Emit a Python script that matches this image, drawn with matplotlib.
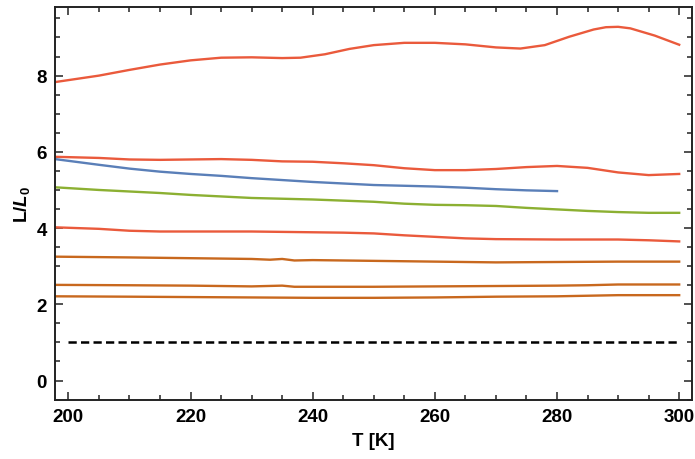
import numpy as np
import matplotlib
matplotlib.use("Agg")
import matplotlib.pyplot as plt
from matplotlib.ticker import MultipleLocator

plt.rcParams['font.family'] = ['Liberation Sans', 'DejaVu Sans']
plt.rcParams['mathtext.fontset'] = 'custom'
plt.rcParams['mathtext.bfit'] = 'Liberation Sans:bold:italic'
plt.rcParams['mathtext.bf'] = 'Liberation Sans:bold'
plt.rcParams['mathtext.it'] = 'Liberation Sans:italic'

red = '#EA5A3C'
blue = '#5A7FB8'
green = '#8CB032'
orange = '#C8681E'

# top red curve
T1 = [197.8, 205, 210, 215, 220, 225, 230, 235, 238, 242, 246, 250, 255, 260, 265, 270, 274, 278, 282, 286, 288, 290, 292, 296, 300]
L1 = [7.83, 8.0, 8.15, 8.29, 8.40, 8.47, 8.48, 8.46, 8.47, 8.56, 8.70, 8.80, 8.86, 8.86, 8.82, 8.74, 8.71, 8.80, 9.02, 9.21, 9.27, 9.28, 9.24, 9.05, 8.81]

# red ~5.9
T2 = [197.8, 205, 210, 215, 220, 225, 230, 235, 240, 245, 250, 255, 260, 265, 270, 275, 280, 285, 290, 295, 300]
L2 = [5.87, 5.84, 5.80, 5.79, 5.80, 5.81, 5.79, 5.75, 5.74, 5.70, 5.65, 5.57, 5.52, 5.52, 5.55, 5.60, 5.63, 5.58, 5.46, 5.39, 5.42]

# blue
T3 = [197.8, 205, 210, 215, 220, 225, 230, 235, 240, 245, 250, 255, 260, 265, 270, 275, 280]
L3 = [5.81, 5.66, 5.56, 5.48, 5.42, 5.37, 5.31, 5.26, 5.21, 5.17, 5.13, 5.11, 5.09, 5.06, 5.02, 4.99, 4.97]

# green
T4 = [197.8, 205, 210, 215, 220, 225, 230, 235, 240, 245, 250, 255, 260, 265, 270, 275, 280, 285, 290, 295, 300]
L4 = [5.07, 5.00, 4.96, 4.92, 4.87, 4.83, 4.79, 4.77, 4.75, 4.72, 4.69, 4.64, 4.61, 4.60, 4.58, 4.53, 4.49, 4.45, 4.42, 4.40, 4.40]

# red ~4
T5 = [197.8, 205, 210, 215, 220, 225, 230, 235, 240, 245, 250, 255, 260, 265, 270, 280, 290, 295, 300]
L5 = [4.02, 3.98, 3.93, 3.91, 3.91, 3.91, 3.91, 3.90, 3.89, 3.88, 3.86, 3.81, 3.77, 3.73, 3.71, 3.70, 3.70, 3.68, 3.65]

# orange curves
T6 = [197.8, 210, 220, 230, 233, 235, 237, 240, 250, 260, 270, 280, 290, 300]
L6 = [3.25, 3.23, 3.21, 3.19, 3.17, 3.19, 3.15, 3.16, 3.14, 3.12, 3.10, 3.11, 3.12, 3.12]
T7 = [197.8, 210, 220, 230, 235, 237, 240, 250, 260, 270, 280, 285, 290, 300]
L7 = [2.51, 2.50, 2.49, 2.47, 2.49, 2.46, 2.46, 2.46, 2.47, 2.48, 2.49, 2.50, 2.52, 2.52]
T8 = [197.8, 210, 220, 230, 240, 250, 260, 270, 280, 290, 300]
L8 = [2.21, 2.20, 2.19, 2.18, 2.17, 2.17, 2.18, 2.20, 2.21, 2.24, 2.24]

# reference L = L0
T_ref = [200, 300]
L_ref = [1, 1]

fig = plt.figure(figsize=(6.95, 4.6), dpi=100)
ax = fig.add_axes([0.0791, 0.1283, 0.9166, 0.8543])

lw = 1.7
ax.plot(T1, L1, color=red, lw=lw)
ax.plot(T2, L2, color=red, lw=lw)
ax.plot(T3, L3, color=blue, lw=lw)
ax.plot(T4, L4, color=green, lw=lw)
ax.plot(T5, L5, color=red, lw=lw)
ax.plot(T6, L6, color=orange, lw=lw)
ax.plot(T7, L7, color=orange, lw=lw)
ax.plot(T8, L8, color=orange, lw=lw)
ax.plot(T_ref, L_ref, color='black', lw=1.8, ls=(0, (3.3, 1.7)))

ax.set_xlim(197.8, 302.1)
ax.set_ylim(-0.51, 9.8)
ax.xaxis.set_major_locator(MultipleLocator(20))
ax.xaxis.set_minor_locator(MultipleLocator(5))
ax.yaxis.set_major_locator(MultipleLocator(2))
ax.yaxis.set_minor_locator(MultipleLocator(0.5))
ax.tick_params(which='both', direction='in', top=True, right=True, width=1.1, color='#222222')
ax.tick_params(which='major', length=6)
ax.tick_params(which='minor', length=3.5)
ax.tick_params(labelsize=13.5, pad=6)
for lab in ax.get_xticklabels() + ax.get_yticklabels():
    lab.set_fontweight('bold')
for s in ax.spines.values():
    s.set_linewidth(1.4)
    s.set_color('#222222')

ax.set_xlabel('T [K]', fontsize=13.5, fontweight='bold', labelpad=5)
ax.set_ylabel(r'L/$\boldsymbol{L}_\mathbf{0}$', fontsize=13.5, fontweight='bold', labelpad=3)

fig.savefig('out.png', dpi=100)
